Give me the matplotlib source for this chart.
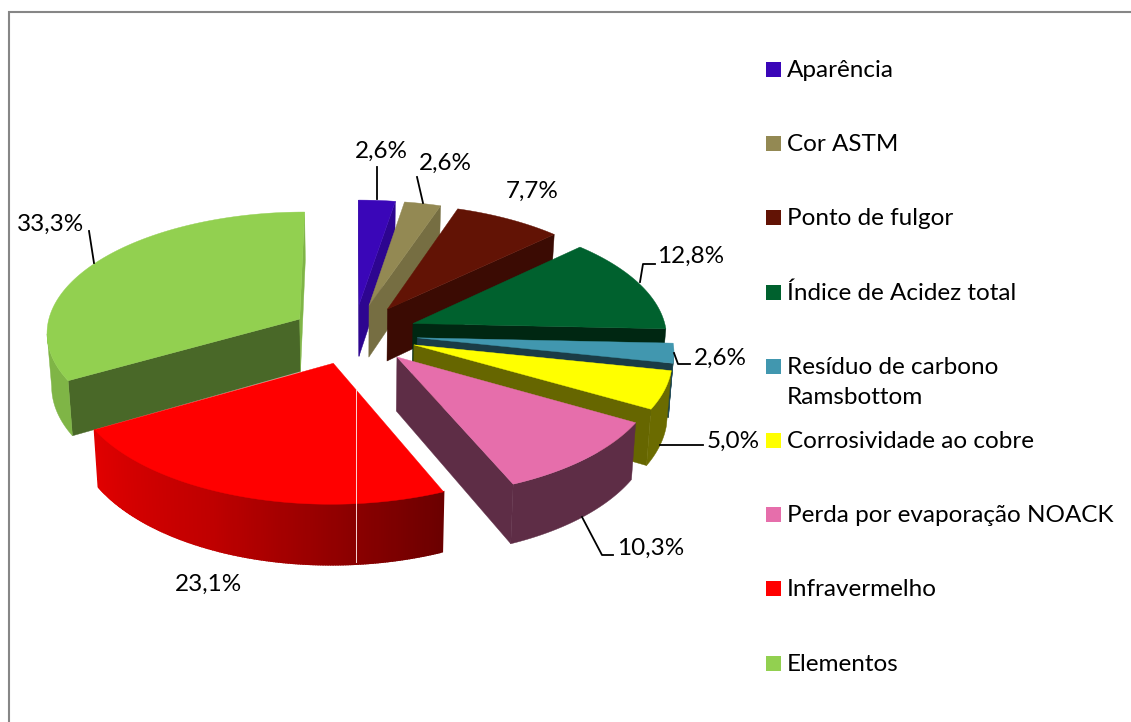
import matplotlib
matplotlib.use("Agg")
import matplotlib.pyplot as plt
import numpy as np
from matplotlib.colors import to_rgb

plt.rcParams["font.family"] = ["Lato", "DejaVu Sans"]

categories = [
    "Aparência",
    "Cor ASTM",
    "Ponto de fulgor",
    "Índice de Acidez total",
    "Resíduo de carbono\nRamsbottom",
    "Corrosividade ao cobre",
    "Perda por evaporação NOACK",
    "Infravermelho",
    "Elementos",
]
values = [2.6, 2.6, 7.7, 12.8, 2.6, 5.0, 10.3, 23.1, 33.3]

colors = ["#3A06B8", "#938953", "#621305", "#00612E", "#4197AF", "#FFFF00", "#E66EAB", "#FF0000", "#92D050"]
wall_shade = [0.78, 0.8, 0.6, 0.4, 0.4, 0.4, 0.41, 0.42, 0.5]
rim_shade = [0.78, 0.8, 0.6, 0.4, 0.5, 0.42, 0.41, 0.6, 0.87]

# projection of the pie, in image pixels
CX, CY = 354, 334
RADIUS_X, RADIUS_Y = 254, 120.6
PERSPECTIVE = 0.1
EXPLODE = 0.25
DEPTH = 53
BOTTOM_SHRINK = 0.985
FONT = 17.5

label_pos = [(381, 151), (445, 163), (532, 191), (691, 256), (720, 358), (733, 441), (651, 548), (208, 584), (50.5, 224)]
leaders = [
    [(377, 167), (377, 199)],
    [(417, 177), (423, 203)],
    None,
    [(640, 282), (643, 264), (655, 264)],
    [(674, 353), (678, 364), (690, 364)],
    [(660, 445), (703, 445)],
    [(582, 517), (602, 555), (613, 555)],
    None,
    [(89, 231), (94, 263)],
]
legend_y = [69, 143, 217, 292, 366, 440, 514, 588, 663]


def project(x, y, z=0.0):
    f = 1 / (1 + PERSPECTIVE * y)
    shrink = 1 - (1 - BOTTOM_SHRINK) * z
    return CX + RADIUS_X * x * f * shrink, CY - RADIUS_Y * y * f + DEPTH * z * f


def shaded(color, k):
    return tuple(c * k for c in to_rgb(color))


def red_rim(angle):
    return np.interp(angle, [157, 175, 205, 240], [0.42, 0.54, 0.75, 0.88])


def band(ax, xs, ys, color, lw=0.3):
    # wall hanging from a run of top-face points
    sx, sy = project(xs, ys)
    bx, by = project(xs, ys, 1)
    ax.fill(np.r_[sx, bx[::-1]], np.r_[sy, by[::-1]], color=color, lw=lw)


def draw_slice(ax, i, start, stop):
    mid = np.radians((start + stop) / 2)
    ox, oy = EXPLODE * np.sin(mid), EXPLODE * np.cos(mid)
    theta = np.radians(np.linspace(start, stop, max(int(stop - start) * 2, 4)))
    rx, ry = ox + np.sin(theta), oy + np.cos(theta)
    cam_y = -1 / PERSPECTIVE
    wall = shaded(colors[i], wall_shade[i])
    is_red = colors[i] == "#FF0000"

    # radial walls, only when they face the camera
    a0, a1 = theta[0], theta[-1]
    if (-ox) * (-np.cos(a0)) + (cam_y - oy) * np.sin(a0) > 0:
        band(ax, np.array([ox, rx[0]]), np.array([oy, ry[0]]), wall)
    if (-ox) * np.cos(a1) + (cam_y - oy) * (-np.sin(a1)) > 0:
        # the wall that faces right on the big slice catches the light
        end_color = shaded(colors[i], rim_shade[i]) if i == 8 else wall
        band(ax, np.array([ox, rx[-1]]), np.array([oy, ry[-1]]), end_color)

    # outer rim: keep the run of points that faces the camera
    am = (theta[:-1] + theta[1:]) / 2
    qx, qy = ox + np.sin(am), oy + np.cos(am)
    facing = (-qx) * np.sin(am) + (cam_y - qy) * np.cos(am) > 0
    idx = np.flatnonzero(facing)
    if len(idx):
        if is_red:
            for j in idx:
                k = red_rim(np.degrees(am[j]))
                band(ax, rx[j:j + 2], ry[j:j + 2], shaded(colors[i], k), lw=1.2)
        else:
            part = np.r_[idx, idx[-1] + 1]
            band(ax, rx[part], ry[part], shaded(colors[i], rim_shade[i]))

    sx, sy = project(np.r_[ox, rx], np.r_[oy, ry])
    ax.fill(sx, sy, color=colors[i], lw=0.3)


def main() -> None:
    fig = plt.figure(figsize=(11.31, 7.22), dpi=100)
    ax = fig.add_axes([0, 0, 1, 1])
    ax.set_xlim(0, 1131)
    ax.set_ylim(722, 0)
    ax.axis("off")

    # chart frame runs off the image on the right and bottom
    ax.plot([8.5, 8.5, 1131], [722, 11.5, 11.5], color="#868686", lw=1.5, solid_joinstyle="miter")

    edges = np.cumsum([0] + values) / sum(values) * 360
    for i in [8, 0, 1, 2, 3, 4, 5, 6, 7]:
        draw_slice(ax, i, edges[i], edges[i + 1])

    # pale seam on the red slice
    ax.plot([355.5, 355.5], [389, 562], color="#F8D8D8", lw=0.7)

    for i, value in enumerate(values):
        text = f"{value:.1f}%".replace(".", ",")
        ax.text(*label_pos[i], text, fontsize=FONT, color="black", ha="center", va="center")
        if leaders[i]:
            xs, ys = zip(*leaders[i])
            ax.plot(xs, ys, color="black", lw=1.3)

    for name, color, y in zip(categories, colors, legend_y):
        ax.fill([766, 781, 781, 766], [y - 7.5, y - 7.5, y + 7.5, y + 7.5], color=color, lw=0)
        ax.text(787, y - 9, name, fontsize=FONT, color="black", ha="left", va="top", linespacing=1.55)

    fig.savefig("out.png", dpi=100, facecolor="white")
    plt.close(fig)


if __name__ == "__main__":
    main()
